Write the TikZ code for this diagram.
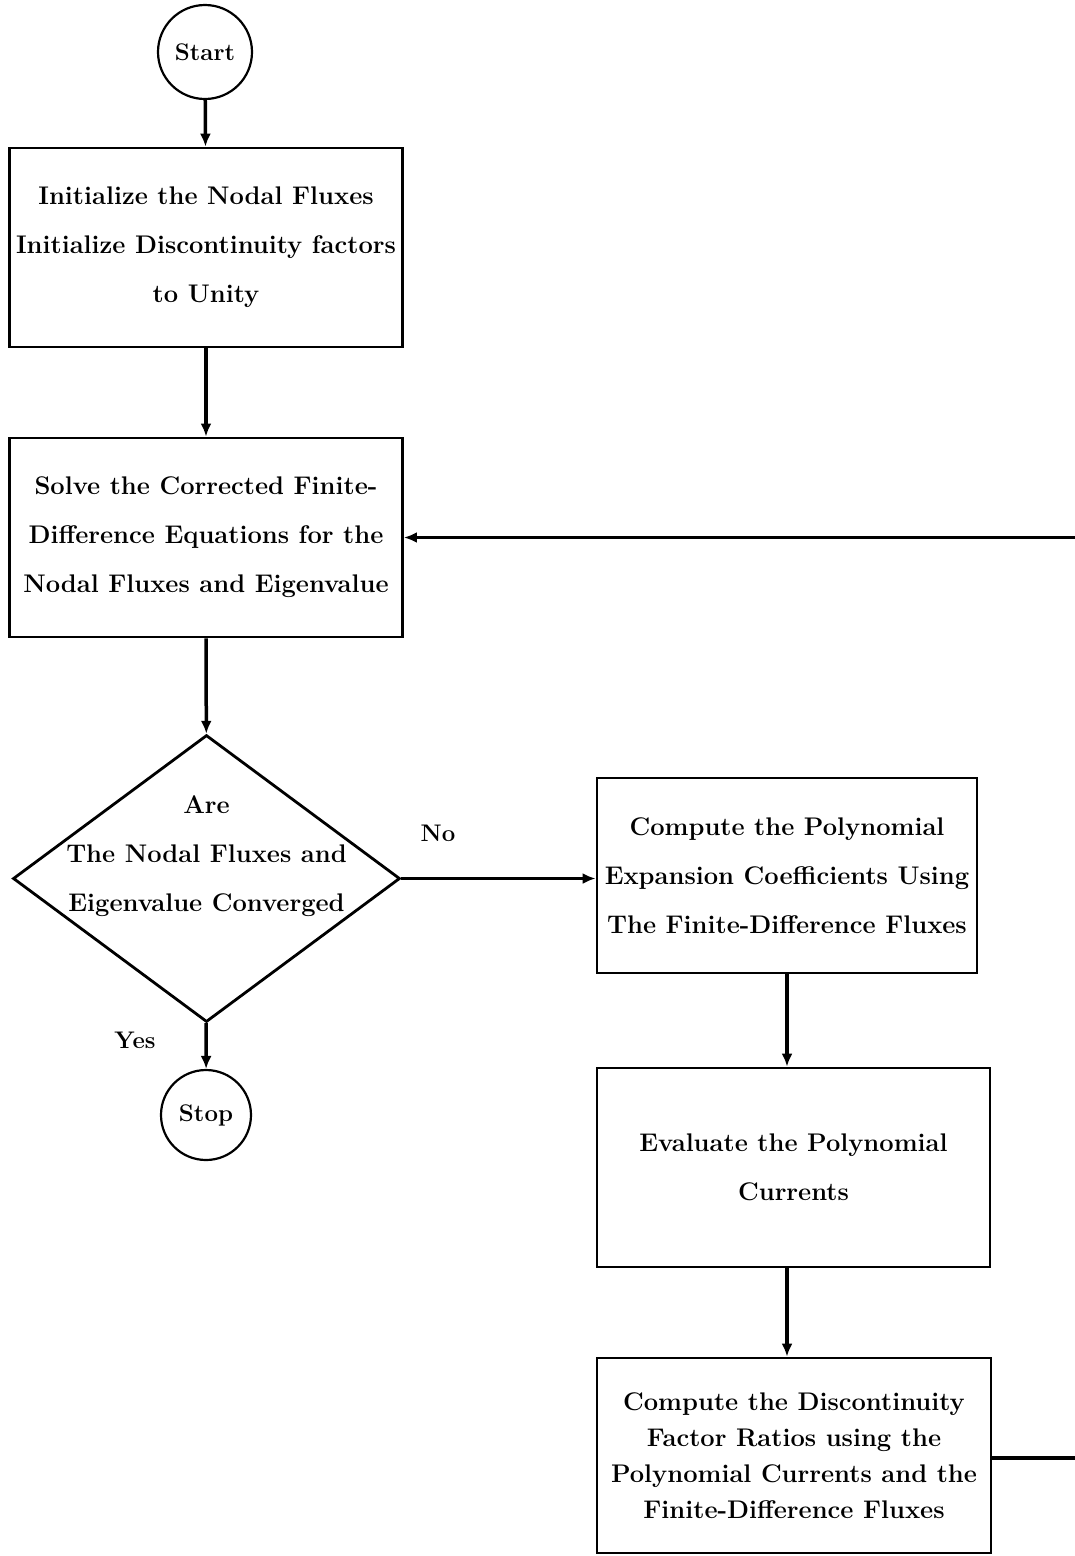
\documentclass[tikz,border=0pt]{standalone}
\usetikzlibrary{shapes.geometric,arrows.meta}
\tikzset{
	box/.style={draw, line width=2.8pt, align=center, inner sep=0pt, minimum width=393pt, minimum height=199pt, font=\bfseries\fontsize{25.5}{49}\selectfont},
	term/.style={draw, circle, line width=2.2pt, inner sep=0pt, font=\bfseries\fontsize{24}{28}\selectfont},
	dec/.style={draw, diamond, line width=2.8pt, inner sep=0pt, minimum width=387pt, minimum height=287pt, font=\bfseries\fontsize{25.5}{49}\selectfont},
	arr/.style={line width=3.5pt, -{Latex[length=13pt,width=11pt]}},
	lbl/.style={font=\bfseries\fontsize{24}{28}\selectfont},
}
\def\flat#1{\makebox[0pt]{\raisebox{20pt}[0pt][0pt]{\begin{tabular}{@{}c@{}}#1\end{tabular}}}}

\begin{document}
\begin{tikzpicture}[x=1pt,y=-1pt]
			%%%%% START %%%%%
			\clip (0,0) rectangle (1075,1556);
			
			\node[term, minimum size=94pt] (start) at (205,52) {Start};
			\node[box] (init) at (206,247.5) {Initialize the Nodal Fluxes\\Initialize Discontinuity factors\\to Unity};
			\node[box] (solve) at (206,537.5) {Solve the Corrected Finite-\\Difference Equations for the\\Nodal Fluxes and Eigenvalue};
			\node[dec] (conv) at (206.5,878.5) {\flat{Are\\The Nodal Fluxes and\\Eigenvalue Converged}};
			\node[term, minimum size=90pt] (stop) at (206,1115) {Stop};
			
			\node[box, minimum width=380pt, minimum height=195pt] (poly) at (787,875.5) {Compute the Polynomial\\Expansion Coefficients Using\\The Finite-Difference Fluxes};
			\node[box] (curr) at (793.5,1167.5) {Evaluate the Polynomial\\Currents};
			\node[box, minimum width=394pt, minimum height=195pt, font=\bfseries\fontsize{25.5}{36}\selectfont] (ratio) at (794,1455.5) {Compute the Discontinuity\\Factor Ratios using the\\Polynomial Currents and the\\Finite-Difference Fluxes};
			
			\node[lbl] (no) at (438,833) {No};
			\node[lbl] (yes) at (135,1040) {Yes};
			\coordinate (edge) at (1082,1458);
			
			\draw[arr] (start) -- (init);
			\draw[arr] (init) -- (solve);
			\draw[arr] (solve) -- (conv);
			\draw[arr] (conv) -- (stop);
			\draw[arr] (conv.east) -- (conv.east -| poly.west);
			\draw[arr] (poly.south) -- (poly.south |- curr.north);
			\draw[arr] (poly.south |- curr.south) -- (poly.south |- ratio.north);
			\draw[arr] (ratio.east |- edge) -- (edge) |- (solve.east);
			
			%%%%% END %%%%%
\end{tikzpicture}
\end{document}
